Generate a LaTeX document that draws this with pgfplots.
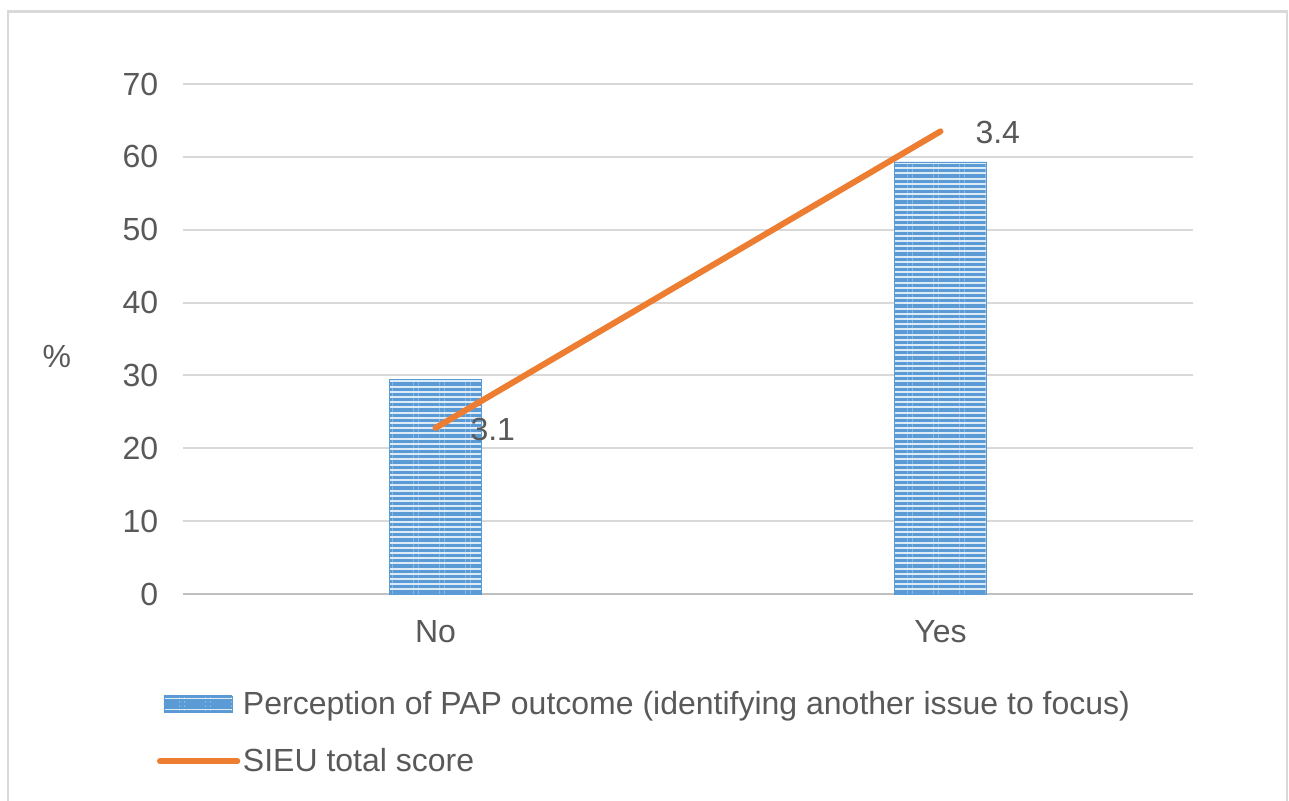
\documentclass[border=0pt]{standalone}
\usepackage{pgfplots}
\pgfplotsset{compat=1.18}
\usepackage{fontspec}
\setmainfont{Liberation Sans}
\usetikzlibrary{patterns.meta}
\definecolor{barblue}{HTML}{5B9BD5}
\definecolor{barlight}{HTML}{DDEBF7}
\definecolor{lineorange}{HTML}{ED7D31}
\definecolor{txt}{HTML}{595959}
\definecolor{gridc}{HTML}{D9D9D9}
\definecolor{axc}{HTML}{BFBFBF}
\pgfplotstableread{
x y
0 29.5
1 59.3
}\bardata
\pgfplotstableread{
x y lab
0 22.8 3.1
1 63.5 3.4
}\linedata
\begin{document}
\begin{tikzpicture}
\useasboundingbox (0,0) rectangle (966.75pt,600pt);
\draw[gridc, line width=1.6pt] (6pt,-5pt) -- (6pt,591.4pt) -- (965.25pt,591.4pt) -- (965.25pt,-5pt);
\begin{axis}[
  at={(137.25pt,154.5pt)}, anchor=south west,
  scale only axis, width=757.5pt, height=382.5pt,
  xmin=-0.5, xmax=1.5, ymin=0, ymax=70,
  ytick={0,10,...,70},
  xtick={0,1}, xticklabels={No,Yes},
  axis lines*=left,
  separate axis lines,
  y axis line style={draw=none},
  x axis line style={draw=axc, line width=2.2pt, -},
  tick style={draw=none},
  ymajorgrids, grid style={gridc, line width=1.5pt},
  font=\fontsize{24pt}{28pt}\selectfont,
  tick label style={txt},
  /pgf/number format/assume math mode=true,
  yticklabel style={xshift=-15pt},
  xticklabel style={yshift=-16pt},
  ylabel={\%},
  ylabel style={at={(rel axis cs:-0.125,0.465)}, rotate=-90, anchor=center, txt},
  legend style={at={(rel axis cs:-0.03,-0.18)}, anchor=north west, draw=none, fill=none,
    font=\fontsize{24pt}{28pt}\selectfont\color{txt}, row sep=20pt,
    /tikz/every even column/.style={column sep=3pt}},
  legend cell align=left,
]
\addplot[ybar, bar width=69pt, bar shift=0pt, draw=barblue, line width=0.6pt, fill=barlight,
  postaction={pattern={Lines[angle=0, distance=3.9pt, line width=2.4pt]}, pattern color=barblue},
  legend image code/.code={\draw[draw=barblue, fill=barlight,
    postaction={pattern={Lines[angle=0, distance=3pt, line width=1.8pt]}, pattern color=barblue}]
    (0pt,-6pt) rectangle (51pt,6pt);}
] table[x=x,y=y]{\bardata};
\addlegendentry{Perception of PAP outcome (identifying another issue to focus)}
\addplot[lineorange, line width=4.5pt, line cap=round, mark=none,
  nodes near coords, point meta=explicit symbolic,
  every node near coord/.append style={anchor=west, inner sep=0pt, xshift=24pt, yshift=-1pt, txt, font=\fontsize{24pt}{28pt}\selectfont},
  legend image code/.code={\draw[lineorange, line width=4.5pt, line cap=round] (-3pt,0pt) -- (55pt,0pt);}
] table[x=x,y=y,meta=lab]{\linedata};
\addlegendentry{SIEU total score}
\end{axis}
\end{tikzpicture}
\end{document}
